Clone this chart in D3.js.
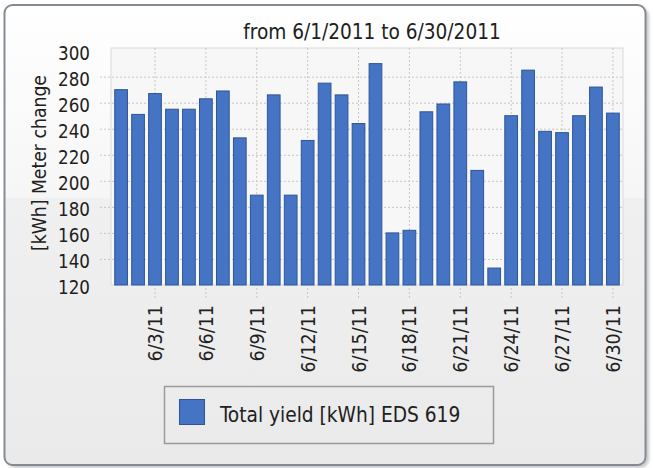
<!DOCTYPE html>
<html>
<head>
<meta charset="utf-8">
<script src="https://cdn.jsdelivr.net/npm/d3@7/dist/d3.min.js"></script>
<style>
body { margin: 0; background: #ffffff; }
svg text { font-family: "DejaVu Sans Condensed", "DejaVu Sans", sans-serif; fill: #202020; }
</style>
</head>
<body>
<svg id="canvas" width="654" height="468"></svg>
<script>
var days = ["6/1/11", "6/2/11", "6/3/11", "6/4/11", "6/5/11", "6/6/11", "6/7/11", "6/8/11", "6/9/11", "6/10/11",
            "6/11/11", "6/12/11", "6/13/11", "6/14/11", "6/15/11", "6/16/11", "6/17/11", "6/18/11", "6/19/11", "6/20/11",
            "6/21/11", "6/22/11", "6/23/11", "6/24/11", "6/25/11", "6/26/11", "6/27/11", "6/28/11", "6/29/11", "6/30/11"]
var yieldValues = [270, 251, 267, 255, 255, 263, 269, 233, 189, 266,
                   189, 231, 275, 266, 244, 290, 160, 162, 253, 259,
                   276, 208, 133, 250, 285, 238, 237, 250, 272, 252]
var tickDays = ["6/3/11", "6/6/11", "6/9/11", "6/12/11", "6/15/11", "6/18/11", "6/21/11", "6/24/11", "6/27/11", "6/30/11"]
var yTicks = [120, 140, 160, 180, 200, 220, 240, 260, 280, 300]
var titleText = "from 6/1/2011 to 6/30/2011"
var yTitleText = "[kWh] Meter change"
var seriesName = "Total yield [kWh] EDS 619"

var svg = d3.select("#canvas")
var plot = {left: 111, right: 623, top: 48, bottom: 285}

var defs = svg.append("defs")
var grad = defs.append("linearGradient").attr("id", "panelGrad")
    .attr("x1", 0).attr("y1", 0).attr("x2", 0).attr("y2", 1)
grad.append("stop").attr("offset", 0).attr("stop-color", "#ffffff")
grad.append("stop").attr("offset", 0.42).attr("stop-color", "#f6f6f6")
grad.append("stop").attr("offset", 0.42).attr("stop-color", "#f0f0f0")
grad.append("stop").attr("offset", 1).attr("stop-color", "#eaeaea")

var blur = defs.append("filter").attr("id", "shadow")
blur.append("feGaussianBlur").attr("stdDeviation", 1.5)

// panel
svg.append("rect")
    .attr("x", 7).attr("y", 7).attr("width", 642).attr("height", 461)
    .attr("rx", 9).attr("fill", "#c8c8c8").attr("filter", "url(#shadow)")
svg.append("rect")
    .attr("x", 4.5).attr("y", 5).attr("width", 641).attr("height", 460)
    .attr("rx", 8).attr("fill", "url(#panelGrad)")
    .attr("stroke", "#858b93").attr("stroke-width", 2)

var x = d3.scaleBand()
    .domain(days)
    .range([plot.left, plot.right])
    .paddingInner(0.25)
    .paddingOuter(0.22)

var y = d3.scaleLinear()
    .domain([120, 302])
    .range([plot.bottom, plot.top])

svg.append("rect")
    .attr("x", plot.left).attr("y", plot.top)
    .attr("width", plot.right - plot.left).attr("height", plot.bottom - plot.top)
    .attr("fill", "#f7f7f7").attr("stroke", "#d9d9d9")

// vertical grid
svg.append("g").selectAll("line")
    .data(tickDays)
    .enter()
        .append("line")
        .attr("x1", function(d){ return x(d) + x.bandwidth() / 2 })
        .attr("x2", function(d){ return x(d) + x.bandwidth() / 2 })
        .attr("y1", plot.top)
        .attr("y2", plot.bottom)
        .attr("stroke", "#c6c6c6")
        .attr("stroke-dasharray", "2,2")

// y axis with grid lines
var yAxis = svg.append("g")
    .attr("transform", "translate(100,0)")
    .call(d3.axisLeft(y).tickValues(yTicks).tickSize(-(plot.right - 100)).tickPadding(10))
yAxis.select(".domain").remove()
yAxis.selectAll(".tick line")
    .attr("stroke", "#c6c6c6")
    .attr("stroke-dasharray", "2,2")
    .attr("display", function(d){ return (d == 120 || d == 300) ? "none" : null })
yAxis.selectAll(".tick text")
    .attr("dy", "0.47em")
    .style("font-size", "18.6px")
    .attr("fill", "#202020")

// bars
svg.append("g").selectAll("rect")
    .data(yieldValues)
    .enter()
        .append("rect")
        .attr("x", function(d, i){ return x(days[i]) })
        .attr("y", function(d){ return y(d) })
        .attr("width", x.bandwidth())
        .attr("height", function(d){ return y(120) - y(d) })
        .attr("fill", "#4674c5")
        .attr("stroke", "#2d5596")
        .attr("stroke-width", 1)

// x axis
var xAxis = svg.append("g")
    .attr("transform", "translate(0," + plot.bottom + ")")
    .call(d3.axisBottom(x).tickValues(tickDays).tickSize(13).tickPadding(0))
xAxis.select(".domain").remove()
xAxis.selectAll(".tick line")
    .attr("y1", 3)
    .attr("stroke", "#c6c6c6")
    .attr("stroke-dasharray", "2,2")
xAxis.selectAll(".tick text")
    .attr("transform", "rotate(-90)")
    .attr("text-anchor", "end")
    .attr("x", -20)
    .attr("y", 0)
    .attr("dy", "0.36em")
    .style("font-size", "19.5px")
    .attr("fill", "#202020")

// titles
svg.append("text")
    .attr("x", 372).attr("y", 39)
    .attr("text-anchor", "middle")
    .style("font-size", "20.6px")
    .text(titleText)

svg.append("text")
    .attr("transform", "translate(46,163) rotate(-90)")
    .attr("text-anchor", "middle")
    .style("font-size", "19.2px")
    .text(yTitleText)

// legend
var legend = svg.append("g")
legend.append("rect")
    .attr("x", 164.5).attr("y", 386.5).attr("width", 329).attr("height", 57)
    .attr("fill", "none").attr("stroke", "#9a9a9a").attr("stroke-width", 1.5)
legend.append("rect")
    .attr("x", 179.5).attr("y", 399.5).attr("width", 25).attr("height", 25)
    .attr("fill", "#4674c5").attr("stroke", "#2d5596")
legend.append("text")
    .attr("x", 220).attr("y", 421.5)
    .style("font-size", "20.7px")
    .text(seriesName)
</script>
</body>
</html>
